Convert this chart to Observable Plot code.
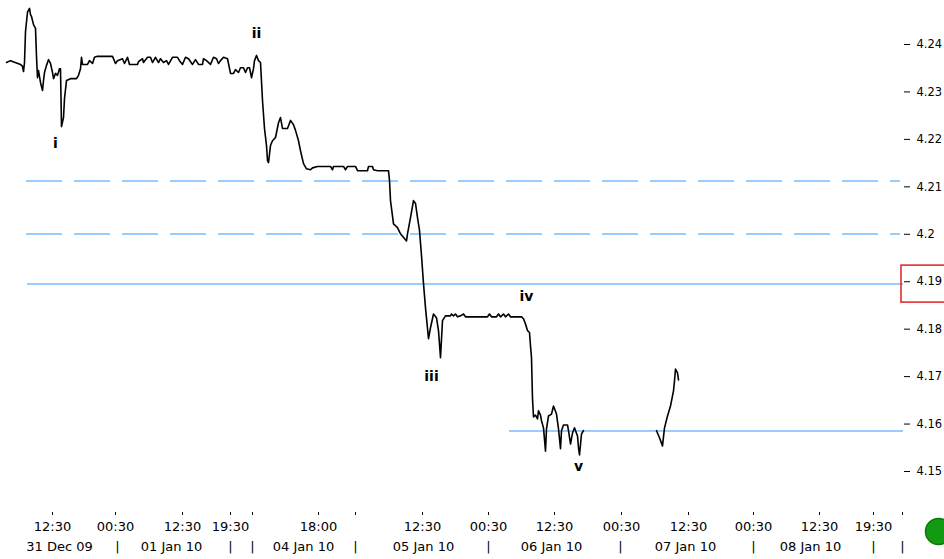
<!DOCTYPE html>
<html>
<head>
<meta charset="utf-8">
<script src="https://cdn.jsdelivr.net/npm/d3@7"></script>
<script src="https://cdn.jsdelivr.net/npm/@observablehq/plot@0.6"></script>
<style>
  html, body { margin: 0; padding: 0; background: #fff; }
  #chart { width: 944px; height: 559px; overflow: hidden; }
</style>
</head>
<body>
<div id="chart"></div>
<script>
// ---- price series (bar position, price); null = gap in trading data ----
const priceT = [
  6, 10, 20, 22, 23, 24, 25, 27, 29, 30, 31, 33, 35, 36, 37, 38, 40, 42, 43, 44,
  46, 48, 50, 52, 53, 55, 57, 59, 60, 61, 63, 64, 66, 70, 76, 78, 80, 81, 82, 87,
  89, 92, 94, 97, 112, 115, 117, 122, 124, 127, 129, 137, 138, 142, 143, 147, 150, 152, 155, 158,
  160, 163, 166, 168, 172, 177, 179, 182, 185, 188, 192, 195, 198, 202, 203, 206, 210, 213, 216, 218,
  220, 223, 227, 228, 230, 233, 235, 238, 240, 243, 245, 247, 249, 251, 253, 254, 256, 258, 260, 262,
  264, 266, 267, 268, 270, 272, 275, 278, 280, 282, 287, 290, 293, 295, 298, 300, 303, 306, 310, 312,
  317, 330, 332, 333, 343, 345, 347, 355, 357, 367, 368, 372, 373, 377, 388, 389, 390, 393, 397, 400,
  406, 407, 410, 413, 415, 417, 419, 421, 423, 425, 428, 430, 433, 436, 438, 440, 442, 445, 450, 451,
  453, 455, 457, 460, 463, 465, 487, 489, 491, 496, 498, 500, 503, 505, 508, 510, 521, 523, 525, 527,
  529, 530, 531, 532, 533, 535, 537, 538, 540, 541, 543, 545, 546, 548, 551, 553, 556, 558, 560, 561,
  563, 567, 568, 570, 572, 574, 577, 578, 579, 581, 583,
  620,
  656, 659, 662, 664, 667, 670, 673, 674, 675, 677, 678
];
const priceV = [
  4.2362, 4.2366, 4.2358, 4.2354, 4.2343, 4.2362, 4.2427, 4.2468, 4.2476, 4.2463, 4.2459, 4.2442, 4.2434, 4.2375, 4.2330, 4.2345, 4.2320, 4.2303, 4.2324, 4.2341,
  4.2356, 4.2368, 4.2360, 4.2341, 4.2328, 4.2339, 4.2335, 4.2349, 4.2349, 4.2227, 4.2246, 4.2286, 4.2324, 4.2328, 4.2328, 4.2335, 4.2349, 4.2373, 4.2358, 4.2358,
  4.2366, 4.2360, 4.2373, 4.2375, 4.2375, 4.2360, 4.2366, 4.2370, 4.2360, 4.2373, 4.2358, 4.2358, 4.2364, 4.2370, 4.2362, 4.2373, 4.2373, 4.2362, 4.2373, 4.2362,
  4.2370, 4.2362, 4.2366, 4.2358, 4.2373, 4.2373, 4.2366, 4.2358, 4.2373, 4.2370, 4.2358, 4.2368, 4.2358, 4.2358, 4.2370, 4.2366, 4.2358, 4.2373, 4.2370, 4.2360,
  4.2366, 4.2373, 4.2370, 4.2360, 4.2339, 4.2339, 4.2347, 4.2341, 4.2351, 4.2351, 4.2341, 4.2351, 4.2351, 4.2330, 4.2349, 4.2366, 4.2377, 4.2366, 4.2362, 4.2282,
  4.2223, 4.2187, 4.2155, 4.2151, 4.2187, 4.2197, 4.2204, 4.2235, 4.2246, 4.2223, 4.2223, 4.2240, 4.2231, 4.2219, 4.2197, 4.2176, 4.2149, 4.2138, 4.2136, 4.2140,
  4.2143, 4.2143, 4.2136, 4.2143, 4.2143, 4.2136, 4.2143, 4.2143, 4.2134, 4.2134, 4.2143, 4.2143, 4.2136, 4.2134, 4.2134, 4.2113, 4.2071, 4.2022, 4.2014, 4.2001,
  4.1986, 4.2001, 4.2035, 4.2071, 4.2065, 4.2035, 4.2008, 4.1955, 4.1896, 4.1845, 4.1780, 4.1803, 4.1832, 4.1824, 4.1797, 4.1740, 4.1818, 4.1828, 4.1828, 4.1832,
  4.1828, 4.1832, 4.1826, 4.1828, 4.1832, 4.1826, 4.1826, 4.1832, 4.1826, 4.1826, 4.1832, 4.1826, 4.1832, 4.1826, 4.1832, 4.1826, 4.1826, 4.1822, 4.1811, 4.1797,
  4.1793, 4.1765, 4.1740, 4.1653, 4.1615, 4.1619, 4.1611, 4.1628, 4.1619, 4.1607, 4.1592, 4.1543, 4.1590, 4.1617, 4.1621, 4.1638, 4.1621, 4.1590, 4.1548, 4.1586,
  4.1598, 4.1598, 4.1586, 4.1558, 4.1581, 4.1592, 4.1575, 4.1550, 4.1535, 4.1579, 4.1586,
  null,
  4.1586, 4.1571, 4.1554, 4.1592, 4.1617, 4.1638, 4.1670, 4.1691, 4.1716, 4.1708, 4.1693
];

// ---- horizontal levels ----
const dashedLevels = [4.2113, 4.2001];
const solidLevels = [4.1895, 4.1586];
const solidStarts = [27, 509];
const currentPrice = [4.1895];

// ---- wave annotations ----
const waveLabels = ["i", "ii", "iii", "iv", "v"];
const waveT = [55, 256, 431, 526, 578];
const wavePrice = [4.2191, 4.2423, 4.1700, 4.1868, 4.1510];

// ---- axes ----
const yTicks = [4.15, 4.16, 4.17, 4.18, 4.19, 4.20, 4.21, 4.22, 4.23, 4.24];
const timeT = [52, 115, 182, 230, 252, 318, 355, 422, 488, 554, 621, 688, 753, 819, 873, 902];
const timeLabels = ["12:30", "00:30", "12:30", "19:30", "", "18:00", "", "12:30", "00:30", "12:30", "00:30", "12:30", "00:30", "12:30", "19:30", ""];
const dateT = [59, 117, 171, 230, 252, 303, 355, 423, 488, 551, 620, 685, 753, 810, 873, 902];
const dateLabels = ["31 Dec 09", "|", "01 Jan 10", "|", "|", "04 Jan 10", "|", "05 Jan 10", "|", "06 Jan 10", "|", "07 Jan 10", "|", "08 Jan 10", "|", "|"];

const series = priceT.map((t, i) => ({t, price: priceV[i]}));
const waves = waveLabels.map((label, i) => ({label, t: waveT[i], price: wavePrice[i]}));
const solids = solidLevels.map((p, i) => ({price: p, start: solidStarts[i]}));
const timeMap = new Map(timeT.map((t, i) => [t, timeLabels[i]]));
const dateMap = new Map(dateT.map((t, i) => [t, dateLabels[i]]));

const lineBlue = "#99ccff";

const chart = Plot.plot({
  width: 944,
  height: 559,
  marginLeft: 0,
  marginRight: 41,
  marginTop: 0,
  marginBottom: 47,
  style: {background: "#fff", color: "#000", fontFamily: "DejaVu Sans, sans-serif", overflow: "visible"},
  x: {domain: [0, 903], label: null},
  y: {domain: [4.15, 4.24], range: [471, 44], label: null},
  marks: [
    Plot.ruleY(dashedLevels, {y: d => d, x1: 26, x2: 900, stroke: lineBlue, strokeWidth: 2, strokeDasharray: "36,12", shapeRendering: "crispEdges"}),
    Plot.ruleY(solids, {y: "price", x1: "start", x2: 903, stroke: lineBlue, strokeWidth: 2, shapeRendering: "crispEdges"}),
    Plot.line(series, {x: "t", y: "price", stroke: "#000", strokeWidth: 1.6}),
    Plot.text(waves, {x: "t", y: "price", text: "label", fontWeight: "bold", fontSize: 14, fill: "#000", letterSpacing: 1}),
    Plot.axisY({anchor: "right", label: null, ticks: yTicks, tickSize: 6, tickPadding: 7, fontSize: 11.5, stroke: "#000", tickFormat: d => String(+d.toFixed(2))}),
    Plot.rect(currentPrice, {x1: 901, x2: 970, y1: d => d - 0.0039, y2: d => d + 0.0039, fill: "none", stroke: "#e02020", strokeWidth: 1.5}),
    Plot.axisX({ticks: timeT, label: null, tickSize: 3, tickPadding: 6, fontSize: 13, tickFormat: d => timeMap.get(d)}),
    Plot.axisX({ticks: dateT, label: null, tickSize: 0, tickPadding: 29, fontSize: 13, tickFormat: d => dateMap.get(d)}),
    Plot.dot([0], {frameAnchor: "bottom-right", dx: 35, dy: 19, r: 13, fill: "#139a13", stroke: "#0b7a0b"})
  ]
});
document.getElementById("chart").appendChild(chart);
</script>
</body>
</html>
